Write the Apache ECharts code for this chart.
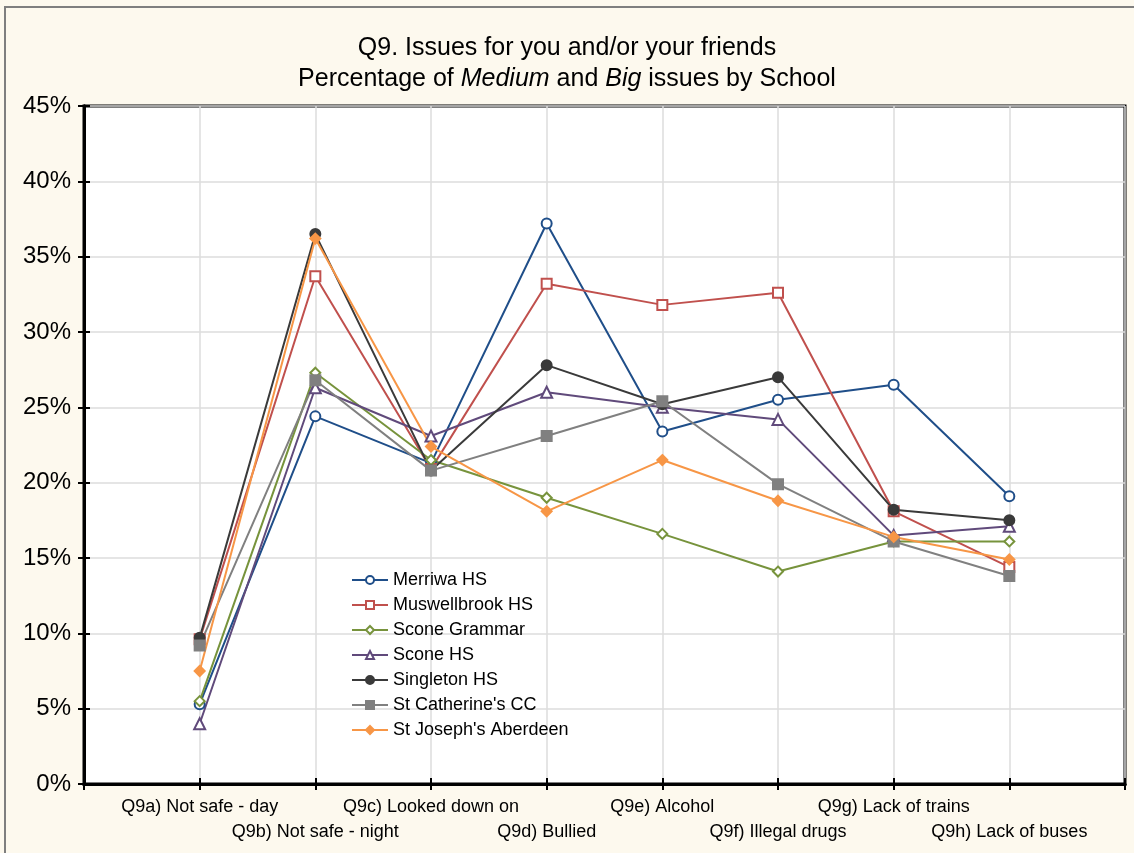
<!DOCTYPE html>
<html>
<head>
<meta charset="utf-8">
<script src="https://cdn.jsdelivr.net/npm/echarts@6/dist/echarts.min.js"></script>
<style>
html,body{margin:0;padding:0;background:#fdf9ee;}
#chart{width:1134px;height:853px;}
</style>
</head>
<body>
<div id="chart"></div>
<script>
const categories = ['Q9a) Not safe - day','Q9b) Not safe - night','Q9c) Looked down on','Q9d) Bullied','Q9e) Alcohol','Q9f) Illegal drugs','Q9g) Lack of trains','Q9h) Lack of buses'];
const yTicks = [0,5,10,15,20,25,30,35,40,45];

const merriwa      = [5.3, 24.4, 21.3, 37.2, 23.4, 25.5, 26.5, 19.1];
const muswellbrook = [9.6, 33.7, 20.9, 33.2, 31.8, 32.6, 18.1, 14.4];
const sconeGrammar = [5.5, 27.3, 21.5, 19.0, 16.6, 14.1, 16.1, 16.1];
const sconeHS      = [4.0, 26.3, 23.1, 26.0, 25.0, 24.2, 16.5, 17.1];
const singleton    = [9.7, 36.5, 20.8, 27.8, 25.2, 27.0, 18.2, 17.5];
const stCatherines = [9.2, 26.8, 20.8, 23.1, 25.4, 19.9, 16.1, 13.8];
const stJosephs    = [7.5, 36.2, 22.4, 18.1, 21.5, 18.8, 16.4, 14.9];

const seriesDefs = [
  {name:'Merriwa HS', data:merriwa, color:'#1f4e89', symbol:'emptyCircle'},
  {name:'Muswellbrook HS', data:muswellbrook, color:'#c0504d', symbol:'emptyRect'},
  {name:'Scone Grammar', data:sconeGrammar, color:'#77933c', symbol:'emptyDiamond'},
  {name:'Scone HS', data:sconeHS, color:'#604a7b', symbol:'emptyTriangle'},
  {name:'Singleton HS', data:singleton, color:'#3a3a3a', symbol:'circle'},
  {name:"St Catherine's CC", data:stCatherines, color:'#808080', symbol:'rect'},
  {name:"St Joseph's Aberdeen", data:stJosephs, color:'#f79646', symbol:'diamond'}
];

const chart = echarts.init(document.getElementById('chart'));
const font = 'Liberation Sans, Arial, sans-serif';

const option = {
  backgroundColor:'#fdf9ee',
  animation:false,
  graphic:[{type:'rect', shape:{x:5,y:7,width:1140,height:860}, style:{fill:'none', stroke:'#7f7f7f', lineWidth:2}, silent:true}],
  title:{
    text:'Q9. Issues for you and/or your friends\nPercentage of {i|Medium} and {i|Big} issues by School',
    left:'center', top:28,
    textStyle:{fontFamily:font, fontSize:25, fontWeight:'normal', color:'#000', lineHeight:31,
      rich:{i:{fontFamily:font, fontSize:25, fontStyle:'italic', color:'#000', lineHeight:31}}}
  },
  grid:{left:84, right:9, top:106, bottom:69, show:true, backgroundColor:'#fff', borderColor:'#000', borderWidth:3, containLabel:false},
  legend:{
    orient:'vertical', left:346, top:566, itemWidth:36, itemHeight:10, itemGap:7,
    textStyle:{fontFamily:font, fontSize:18, color:'#000'},
    data:seriesDefs.map(s=>s.name)
  },
  xAxis:[{
    type:'value', min:0, max:9, interval:1,
    axisLine:{show:true, lineStyle:{color:'#000', width:3}},
    axisTick:{show:true, inside:true, length:6, lineStyle:{color:'#000', width:2}},
    splitLine:{show:true, lineStyle:{color:'#dcdcdc', width:1.5}},
    axisLabel:{
      fontFamily:font, fontSize:18, color:'#000', margin:11, lineHeight:25, showMinLabel:true, showMaxLabel:true,
      formatter:function(v){ const i = Math.round(v)-1; if(i<0||i>=categories.length) return ''; return (i%2===0)? categories[i] : '\n'+categories[i]; }
    }
  },{
    type:'value', position:'top', min:0, max:9, interval:1,
    axisLine:{show:true, lineStyle:{color:'#000', width:3}},
    axisTick:{show:true, inside:true, length:6, lineStyle:{color:'#000', width:2}},
    axisLabel:{show:false}, splitLine:{show:false}
  }],
  yAxis:[{
    type:'value', min:0, max:45, interval:5,
    axisLine:{show:true, lineStyle:{color:'#000', width:3}},
    axisTick:{show:true, inside:true, length:6, lineStyle:{color:'#000', width:2}},
    splitLine:{show:true, lineStyle:{color:'#dcdcdc', width:1.5}},
    axisLabel:{fontFamily:font, fontSize:24, color:'#000', margin:13, formatter:function(v){return yTicks.indexOf(v)>=0 ? v+'%' : '';}}
  },{
    type:'value', position:'right', min:0, max:45, interval:5,
    axisLine:{show:true, lineStyle:{color:'#000', width:3}},
    axisTick:{show:true, inside:true, length:6, lineStyle:{color:'#000', width:2}},
    axisLabel:{show:false}, splitLine:{show:false}
  }],
  series:seriesDefs.map(s=>({
    name:s.name, type:'line', xAxisIndex:0, yAxisIndex:0,
    data:s.data.map((v,i)=>[i+1, v]),
    symbol:s.symbol, symbolSize: s.symbol==='emptyTriangle' ? 11 : 10,
    showAllSymbol:true,
    lineStyle:{color:s.color, width:2},
    itemStyle:{color:s.color, borderColor:s.color, borderWidth:2},
    emphasis:{disabled:true}
  }))
};
chart.setOption(option);
</script>
</body>
</html>
